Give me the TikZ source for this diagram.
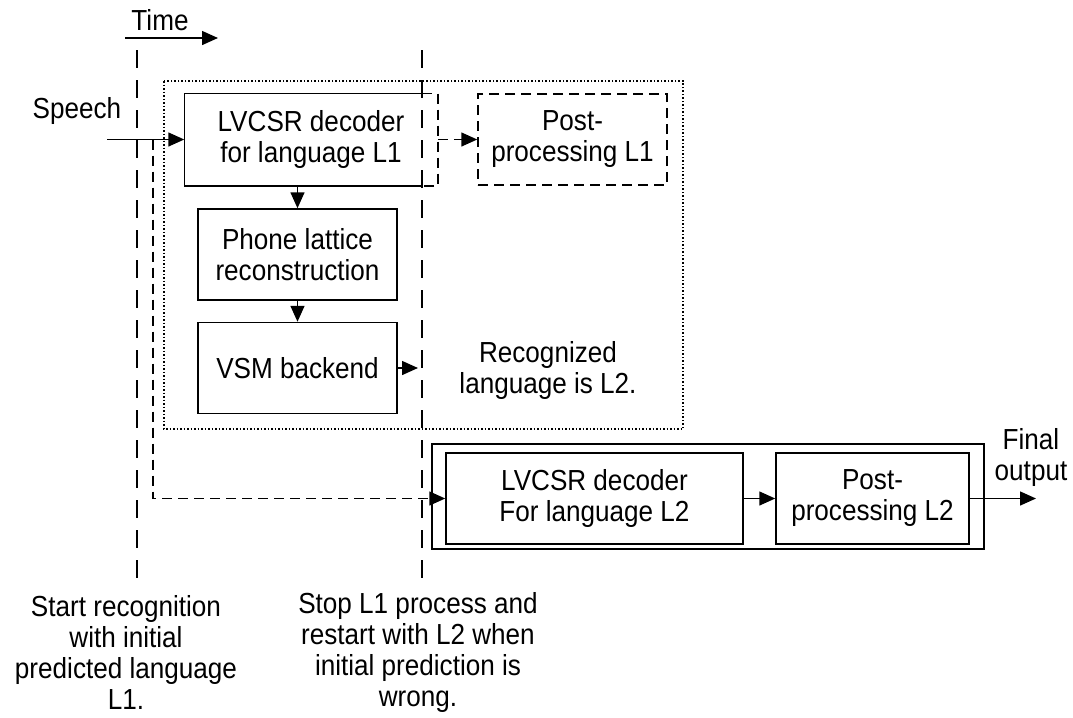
\documentclass[tikz,border=0pt]{standalone}
\usepackage{fontspec}
\setmainfont[FakeStretch=0.9]{Liberation Sans}
\usetikzlibrary{positioning, arrows.meta}

\begin{document}
\begin{tikzpicture}[x=0.5pt, y=-0.5pt, line width=0.75pt,
        font=\fontsize{14.5}{15.5}\selectfont,
        box/.style={draw, minimum width=#1, minimum height=45.5pt, inner sep=0pt, align=center},
        hidebox/.style={minimum width=#1, minimum height=45.5pt, inner sep=0pt, align=center},
        arr/.style={-{Triangle[length=8pt, width=7pt]}},
        timeline/.style={dash pattern=on 9pt off 6pt},
        shortdash/.style={dash pattern=on 5pt off 3pt}]
        \useasboundingbox (0,0) rectangle (1073,718);

        % Draw time axis and the two time lines
        \node (time) at (160,20) {Time};
        \coordinate (tstart) at (125,38);
        \coordinate (tend) at (218,38);
        \draw[arr] (tstart) -- (tend);

        \coordinate (t1top) at (137,50);
        \coordinate (t1bot) at (137,581);
        \coordinate (t2top) at (422,50);
        \coordinate (t2bot) at (422,581);
        \draw[timeline] (t1top) -- (t1bot);
        \draw[timeline] (t2top) -- (t2bot);

        % Draw the first pass (language L1)
        \draw[densely dotted] (164,81) rectangle (683,429);

        \node[hidebox=126pt] (dec1) at (311,139.5) {LVCSR decoder\\for language L1};
        \node[box=94.5pt, shortdash] (post1) at (572.5,139.5) {Post-\\processing L1};
        \node[box=99.5pt] (phone) at (297.5,254.5) {Phone lattice\\reconstruction};
        \node[box=99.5pt] (vsm) at (297.5,368) {VSM backend};
        \node[align=center] (recog) at (548,370) {Recognized\\language is L2.};

        % L1 decoder is cut at the second time line
        \draw (t2top |- dec1.north) -- (dec1.north west) -- (dec1.south west) -- (t2top |- dec1.south);
        \draw[shortdash] (t2top |- dec1.north) -- (dec1.north east) -- (dec1.south east) -- (t2top |- dec1.south);

        \node (speech) at (77,111) {Speech};
        \coordinate (speechin) at (107,139.5);
        \coordinate (vsmout) at (418,368);
        \coordinate (branch) at (153,139.5);

        \draw[arr] (speechin) -- (dec1.west);
        \draw[arr, shortdash] (dec1.east) -- (post1.west);
        \draw[arr] (dec1.south -| phone.north) -- (phone.north);
        \draw[arr] (phone) -- (vsm);
        \draw[arr] (vsm.east) -- (vsmout);

        % Draw the second pass (language L2)
        \draw (432,444) rectangle (984,549);
        \node[box=148.5pt] (dec2) at (594.5,498.5) {LVCSR decoder\\For language L2};
        \node[box=96.5pt] (post2) at (872.5,498.5) {Post-\\processing L2};
        \node[align=center] (final) at (1031,457) {Final\\output};
        \coordinate (finalout) at (1036,498.5);

        \draw[arr, shortdash] (branch) |- (dec2.west);
        \draw[arr] (dec2) -- (post2);
        \draw[arr] (post2.east) -- (finalout);

        % Notes below the time lines
        \node[align=center] (startnote) at (126,652) {Start recognition\\with initial\\predicted language\\L1.};
        \node[align=center] (stopnote) at (418,652) {Stop L1 process and\\restart with L2 when\\initial prediction is\\wrong.};
\end{tikzpicture}
\end{document}
